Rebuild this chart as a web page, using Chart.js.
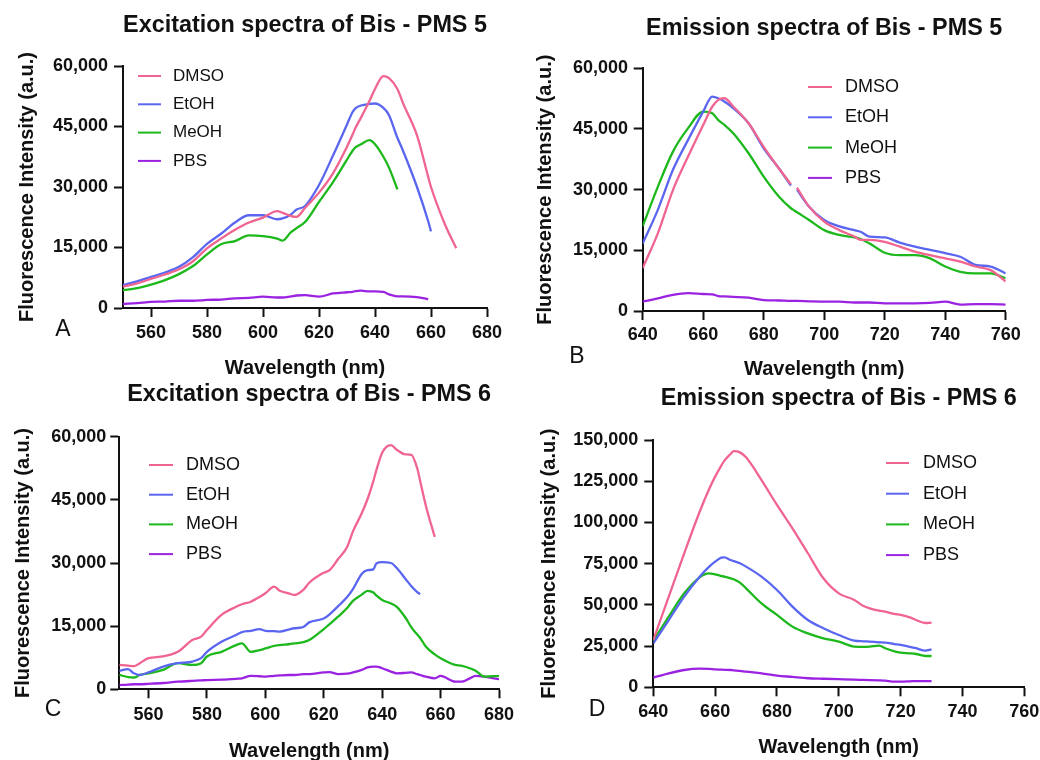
<!DOCTYPE html>
<html><head><meta charset="utf-8">
<script src="https://cdn.jsdelivr.net/npm/chart.js@4.4.1/dist/chart.umd.min.js"></script>
<style>
html,body{margin:0;padding:0;background:#fff;width:1040px;height:760px;overflow:hidden;position:relative;}
canvas{position:absolute;}
.lab{position:absolute;font:23px "Liberation Sans",Arial,sans-serif;color:#111;transform:translate(-50%,-50%);}
</style></head><body>
<canvas id="cA" width="520" height="385" style="left:0px;top:0px"></canvas>
<canvas id="cB" width="540" height="385" style="left:520px;top:0px"></canvas>
<canvas id="cC" width="520" height="390" style="left:0px;top:375px"></canvas>
<canvas id="cD" width="540" height="385" style="left:520px;top:375px"></canvas>
<div class="lab" style="left:63px;top:328px">A</div>
<div class="lab" style="left:577px;top:355px">B</div>
<div class="lab" style="left:53px;top:708px">C</div>
<div class="lab" style="left:597px;top:708px">D</div>
<script>
// ---------- DATA ----------
const seriesNames = ['DMSO', 'EtOH', 'MeOH', 'PBS'];
const seriesColors = ['#f06490', '#5a66f0', '#1cb81c', '#9b22e0'];

// tick labels
const excTicks = [560, 580, 600, 620, 640, 660, 680];
const emiTicks = [640, 660, 680, 700, 720, 740, 760];
const yTicks60 = [0, 15000, 30000, 45000, 60000];
const yTicks150 = [0, 25000, 50000, 75000, 100000, 125000, 150000];

// Panel A: Excitation spectra of Bis - PMS 5
const aWave = [550,555,560,565,570,575,580,585,590,595,600,605,607,610,612,615,620,625,630,632,633,635,638,640,643,645,648,650,655,659,660,665,669];
const aDMSO = [5300,6100,7200,8300,9600,11600,14800,17200,19400,21200,22400,24000,23600,22800,22600,24800,28600,33400,40000,43000,44600,47200,51300,54300,57500,57000,54300,50800,42800,32500,30000,20700,14800];
const aEtOH = [5700,6600,7700,8800,10200,12600,15900,18400,21200,23000,23000,22000,22200,23200,24400,25300,30500,37800,45500,48600,49500,50200,50600,50700,49600,47800,42200,39000,30000,21500,19000,null,null];
const aMeOH = [4400,4900,5800,6900,8400,10400,13300,15800,16600,18000,17800,17200,16700,18800,19800,21300,26300,31200,36800,39000,39800,40600,41600,40600,37500,34800,29400,null,null,null,null,null,null];
const aPBS  = [1000,1200,1500,1600,1800,1800,2000,2100,2400,2500,2800,2600,2600,2900,3100,3200,2800,3600,3900,4000,4200,4300,4100,4100,4000,3400,2900,2900,2700,2200,null,null,null];

// Panel B: Emission spectra of Bis - PMS 5
const bWave = [640,645,650,655,660,663,665,667,670,675,680,685,689,690,691,695,700,705,710,712,715,720,725,730,735,740,745,750,755,760];
const bDMSO = [10600,19200,29900,38200,46000,50500,52200,52600,50500,46400,40600,35300,31300,null,30500,25800,22100,20000,18400,17600,17600,17100,15900,14700,13800,13000,12200,11000,10100,7300];
const bEtOH = [16700,25000,34900,42300,49300,53000,52600,51800,50100,46400,40200,35300,31000,null,30000,25800,22500,20900,20000,19600,18400,18200,16900,15900,15100,14300,13400,11400,11000,9300];
const bMeOH = [21000,30700,39400,45200,49300,48900,47200,46000,43900,39000,33200,28300,25400,24900,24400,22500,20000,18800,18200,17800,16700,14400,13800,13800,13000,11000,9700,9300,9300,8100];
const bPBS  = [2300,3100,4000,4400,4200,4100,3700,3600,3500,3300,2700,2600,2500,2500,2500,2400,2300,2300,2100,2100,2100,1900,1900,1900,2000,2300,1600,1700,1700,1600];

// Panel C: Excitation spectra of Bis - PMS 6
const cWave = [550,553,555,557,560,565,570,575,578,580,585,590,592,595,598,600,603,605,608,610,613,615,620,622,625,628,630,633,635,637,638,640,643,645,648,650,652,653,655,658,660,665,667,670,672,675,680];
const cDMSO = [5800,5600,5500,6200,7400,7800,8900,11700,12500,14100,17700,19600,20200,20800,21900,22800,24400,23400,22800,22400,23600,25300,27700,28300,31000,33800,37500,41800,45200,49500,52000,56200,58000,56900,55800,55700,52500,49500,43500,36200,null,null,null,null,null,null,null];
const cEtOH = [4400,4800,3800,3400,4000,5400,6200,6600,7400,8900,11300,12900,13600,13900,14300,13900,13800,13700,14200,14500,14800,15900,16800,17800,19800,21900,23800,27400,28300,28500,29900,30200,30000,28800,26200,24500,23100,22600,null,null,null,null,null,null,null,null,null];
const cMeOH = [3400,2900,2800,3400,3800,4600,6200,5800,6200,7800,8900,10500,10900,8900,9300,9700,10300,10500,10700,10900,11200,11700,14300,15500,17300,19300,21000,22500,23400,23000,22300,21200,20400,19600,17000,14700,13000,12200,10100,8300,7400,5800,5600,5000,4400,3000,3200];
const cPBS  = [1000,1100,1200,1200,1300,1500,1800,2000,2100,2200,2300,2500,2600,3200,3100,3000,3200,3300,3400,3400,3600,3600,4000,4100,3600,3700,4000,4600,5200,5400,5400,5000,4200,3800,3900,4000,3600,3400,3000,2600,3200,1800,1800,2600,3200,3000,2400];

// Panel D: Emission spectra of Bis - PMS 6
const dWave = [640,645,650,655,658,660,662,663,665,666,668,670,675,680,685,690,695,700,705,708,710,713,715,718,720,723,725,728,730];
const dDMSO = [28700,55000,81300,106500,120000,127800,134500,137500,141500,143200,142500,139500,125700,110600,96400,81300,66100,57000,53000,49300,47900,46500,45900,44500,43900,42400,40800,39000,39200];
const dEtOH = [26700,40800,55000,67100,73000,76200,78600,78800,77200,76500,75200,73200,67100,59000,48900,40800,35800,31700,28300,27900,27700,27300,27100,26200,25700,24500,23700,22200,23000];
const dMeOH = [28300,42900,57000,66700,69100,68500,67500,67200,66100,65500,63500,60000,50900,43900,36800,32700,29700,27700,24700,24500,24700,25300,23700,21800,21000,20600,20200,19000,19000];
const dPBS  = [5900,8500,10500,11300,11200,10900,10700,10600,10500,10300,10000,9500,8500,7100,6300,5500,5200,4900,4600,4500,4400,4200,4000,3400,3400,3600,3800,3800,3800];

// ---------- RENDER ----------
const FONT = '"Liberation Sans", Arial, Helvetica, sans-serif';

const panelLegend = {
  id: 'panelLegend',
  afterDraw(chart, args, o) {
    const ctx = chart.ctx;
    ctx.save();
    chart.data.datasets.forEach((ds, i) => {
      const y = o.y + i * o.dy;
      ctx.strokeStyle = ds.borderColor;
      ctx.lineWidth = 2;
      ctx.beginPath();
      ctx.moveTo(o.x, y);
      ctx.lineTo(o.x + o.len, y);
      ctx.stroke();
      ctx.fillStyle = '#111';
      ctx.font = o.size + 'px ' + FONT;
      ctx.textBaseline = 'middle';
      ctx.textAlign = 'left';
      ctx.fillText(ds.label, o.textX, y);
    });
    ctx.restore();
  }
};

function makeChart(id, p) {
  const datasets = p.series.map((vals, i) => ({
    label: seriesNames[i],
    data: p.wave.map((x, j) => ({ x: x, y: vals[j] })),
    borderColor: seriesColors[i],
    backgroundColor: seriesColors[i],
    borderWidth: 2.3,
    pointRadius: 0,
    cubicInterpolationMode: 'monotone',
    spanGaps: false
  }));
  new Chart(document.getElementById(id), {
    type: 'line',
    data: { datasets },
    plugins: [panelLegend],
    options: {
      responsive: false,
      animation: false,
      events: [],
      layout: { padding: { left: 0, top: 0, right: p.padR, bottom: p.padB } },
      plugins: {
        legend: { display: false },
        tooltip: { enabled: false },
        title: {
          display: true, text: p.title, fullSize: false, color: '#111',
          font: { family: FONT, size: 23.4, weight: 'bold' },
          padding: { top: p.titleTop, bottom: p.titleBottom }
        },
        panelLegend: p.legend
      },
      scales: {
        x: {
          type: 'linear', min: p.xMin, max: p.xMax,
          afterBuildTicks: s => { s.ticks = p.xTicks.map(v => ({ value: v })); },
          afterFit: s => { s.height = p.xH; },
          ticks: { autoSkip: false, maxRotation: 0, padding: p.xTickPad, color: '#111',
                   font: { family: FONT, size: 18, weight: 'bold' } },
          grid: { drawOnChartArea: false, drawTicks: true, tickLength: 9, tickWidth: 2, tickColor: '#111' },
          border: { display: true, color: '#111', width: 2 },
          title: { display: true, text: 'Wavelength (nm)', color: '#111', padding: { top: 0, bottom: 0 },
                   font: { family: FONT, size: 20, weight: 'bold' } }
        },
        y: {
          type: 'linear', min: 0, max: p.yMax,
          afterBuildTicks: s => { s.ticks = p.yTicks.map(v => ({ value: v })); },
          afterFit: s => { s.width = p.yW; },
          ticks: { padding: p.yTickPad, color: '#111',
                   font: { family: FONT, size: 18, weight: 'bold' },
                   callback: v => Number(v).toLocaleString('en-US') },
          grid: { drawOnChartArea: false, drawTicks: true, tickLength: 9, tickWidth: 2, tickColor: '#111' },
          border: { display: true, color: '#111', width: 2 },
          title: { display: true, text: 'Fluorescence Intensity (a.u.)', color: '#111',
                   padding: { top: p.yTitlePad, bottom: 0 },
                   font: { family: FONT, size: 20, weight: 'bold' } }
        }
      }
    }
  });
}

makeChart('cA', {
  title: 'Excitation spectra of Bis - PMS 5',
  wave: aWave, series: [aDMSO, aEtOH, aMeOH, aPBS],
  xMin: 550, xMax: 680, xTicks: excTicks, yMax: 60000, yTicks: yTicks60,
  padR: 33, padB: 4.5, titleTop: 11.96, titleBottom: 25.96,
  yW: 123, yTitlePad: 15.5, yTickPad: 6, xH: 72.5, xTickPad: 5.7,
  legend: { x: 138, len: 23, textX: 173, y: 76, dy: 28.3, size: 17 }
});
makeChart('cB', {
  title: 'Emission spectra of Bis - PMS 5',
  wave: bWave, series: [bDMSO, bEtOH, bMeOH, bPBS],
  xMin: 640, xMax: 760, xTicks: emiTicks, yMax: 60000, yTicks: yTicks60,
  padR: 54.3, padB: 4, titleTop: 14.96, titleBottom: 25.26,
  yW: 122.7, yTitlePad: 13, yTickPad: 5.7, xH: 70, xTickPad: 4.2,
  legend: { x: 288, len: 24, textX: 325, y: 87, dy: 30.3, size: 18 }
});
makeChart('cC', {
  title: 'Excitation spectra of Bis - PMS 6',
  wave: cWave, series: [cDMSO, cEtOH, cMeOH, cPBS],
  xMin: 550, xMax: 680, xTicks: excTicks, yMax: 60000, yTicks: yTicks60,
  padR: 21, padB: 2, titleTop: 5.96, titleBottom: 27.66,
  yW: 119.3, yTitlePad: 11, yTickPad: 4, xH: 73.7, xTickPad: 5.9,
  legend: { x: 149, len: 24, textX: 186, y: 90, dy: 29.7, size: 18 }
});
makeChart('cD', {
  title: 'Emission spectra of Bis - PMS 6',
  wave: dWave, series: [dDMSO, dEtOH, dMeOH, dPBS],
  xMin: 640, xMax: 760, xTicks: emiTicks, yMax: 150000, yTicks: yTicks150,
  padR: 35.7, padB: 0.5, titleTop: 9.46, titleBottom: 27.46,
  yW: 133.3, yTitlePad: 17, yTickPad: 6, xH: 72.2, xTickPad: 5.4,
  legend: { x: 366, len: 23, textX: 403, y: 88, dy: 30.7, size: 18 }
});
</script>
</body></html>
